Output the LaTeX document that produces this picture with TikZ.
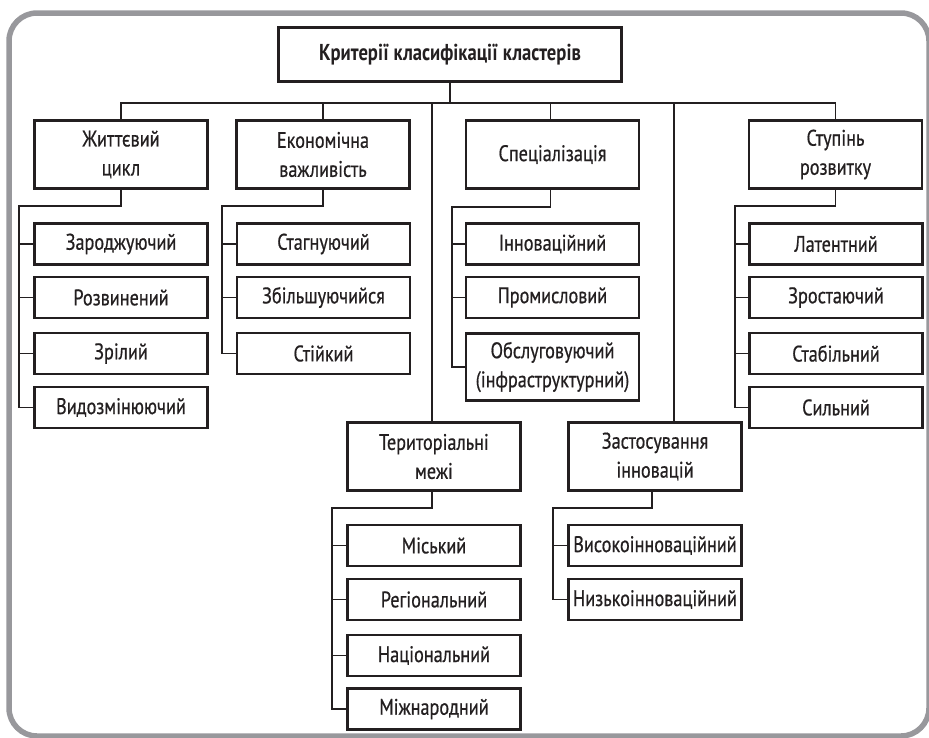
\documentclass[tikz,border=0pt]{standalone}
\usepackage{fontspec}
\setmainfont{PT Sans}[FakeStretch=0.81, FakeBold=0.6, BoldFeatures={FakeBold=0}]
\begin{document}
\begin{tikzpicture}[x=1pt,y=-1pt,
  ink/.style={color={rgb,255:red,35;green,31;blue,32}},
  box/.style={draw, ink, line width=2.6pt, fill=white, align=center,
    font=\fontsize{22.5}{29}\selectfont, inner sep=0pt,
    minimum width=173pt},
  leaf/.style={box, minimum height=41pt},
  crit/.style={box, minimum height=68pt},
  wire/.style={ink, line width=1.8pt},
  frame/.style={draw={rgb,255:red,152;green,152;blue,156}, line width=5.5pt, rounded corners=28pt}]
\useasboundingbox (0,0) rectangle (929,737);
% outer rounded frame
\draw[frame] (9,13) rectangle (929,736);

% root
\node[box, minimum width=343pt, minimum height=54pt, font=\fontsize{23}{29}\selectfont\bfseries]
  (root) at (450,54.5) {Критерії класифікації кластерів};

% criteria
\node[crit] (life)  at (121,154.5)   {Життєвий\\цикл};
\node[crit] (econ)  at (323,154.5)   {Економічна\\важливість};
\node[crit] (spec)  at (552.5,154.5) {Спеціалізація};
\node[crit] (stage) at (835.5,154.5) {Ступінь\\розвитку};
\node[crit] (terr)  at (434,456.5)   {Територіальні\\межі};
\node[crit] (innov) at (655,456.5)   {Застосування\\інновацій};

% life cycle
\node[leaf] (l1) at (121,244)   {Зароджуючий};
\node[leaf] (l2) at (121,297.5) {Розвинений};
\node[leaf] (l3) at (121,353.5) {Зрілий};
\node[leaf] (l4) at (121,407.5) {Видозмінюючий};

% economic importance
\node[leaf] (e1) at (323.5,244)   {Стагнуючий};
\node[leaf] (e2) at (323.5,297.5) {Збільшуючийся};
\node[leaf] (e3) at (323.5,353.5) {Стійкий};

% specialisation
\node[leaf] (s1) at (552.5,244)   {Інноваційний};
\node[leaf] (s2) at (552.5,297.5) {Промисловий};
\node[leaf, minimum height=67pt] (s3) at (552.5,367) {Обслуговуючий\\(інфраструктурний)};

% development stage
\node[leaf] (d1) at (836,244)   {Латентний};
\node[leaf] (d2) at (836,297.5) {Зростаючий};
\node[leaf] (d3) at (836,353.5) {Стабільний};
\node[leaf] (d4) at (836,407.5) {Сильний};

% territorial limits
\node[leaf] (t1) at (434,545.5) {Міський};
\node[leaf] (t2) at (434,599.5) {Регіональний};
\node[leaf] (t3) at (434,655.5) {Національний};
\node[leaf] (t4) at (434,709)   {Міжнародний};

% use of innovations
\node[leaf] (i1) at (655,545.5) {Високоінноваційний};
\node[leaf] (i2) at (655,599.5) {Низькоінноваційний};

% main bus
\coordinate (bus) at (450,103);
\draw[wire] (root.south) -- (bus);
\draw[wire] (life.north) |- (bus) -| (stage.north);
\draw[wire] (econ.north) -- (econ.north |- bus);
\draw[wire] ([xshift=-2pt]spec.north) -- ([xshift=-2pt]spec.north |- bus);
\draw[wire] ([xshift=-2pt]terr.north) -- ([xshift=-2pt]terr.north |- bus);
\draw[wire] ([xshift=19pt]innov.north) -- ([xshift=19pt]innov.north |- bus);

% group brackets
\coordinate (lifeS)  at (19,206);
\coordinate (econS)  at (222,206);
\coordinate (specS)  at (452,207);
\coordinate (stageS) at (735,206);
\coordinate (terrS)  at (332,508);
\coordinate (innovS) at (553,508);

\draw[wire] (life.south) |- (lifeS) |- (l4.west);
\foreach \n in {l1,l2,l3} \draw[wire] (lifeS |- \n.west) -- (\n.west);

\draw[wire] (econ.south) |- (econS) |- (e3.west);
\foreach \n in {e1,e2} \draw[wire] (econS |- \n.west) -- (\n.west);

\draw[wire] ([xshift=-2pt]spec.south) |- (specS) |- (s3.west);
\foreach \n in {s1,s2} \draw[wire] (specS |- \n.west) -- (\n.west);

\draw[wire] (stage.south) |- (stageS) |- (d4.west);
\foreach \n in {d1,d2,d3} \draw[wire] (stageS |- \n.west) -- (\n.west);

\draw[wire] ([xshift=-2pt]terr.south) |- (terrS) |- (t4.west);
\foreach \n in {t1,t2,t3} \draw[wire] (terrS |- \n.west) -- (\n.west);

\draw[wire] ([xshift=-3pt]innov.south) |- (innovS) |- (i2.west);
\draw[wire] (innovS |- i1.west) -- (i1.west);
\end{tikzpicture}
\end{document}
